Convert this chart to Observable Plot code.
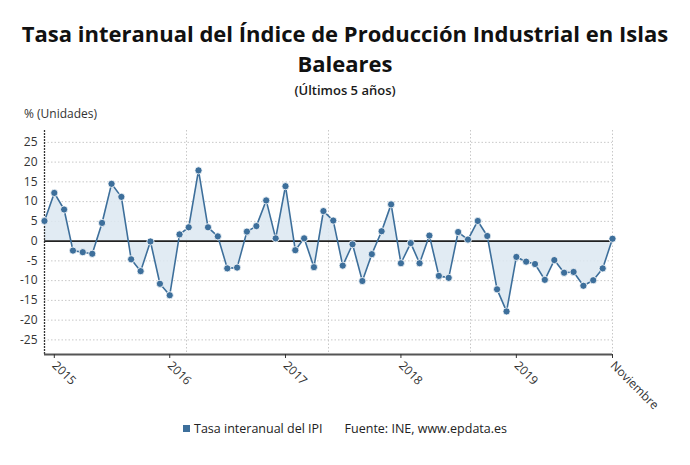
<!DOCTYPE html>
<html>
<head>
<meta charset="utf-8">
<script src="https://cdn.jsdelivr.net/npm/d3@7"></script>
<script src="https://cdn.jsdelivr.net/npm/@observablehq/plot@0.6"></script>
<style>
  html, body { margin: 0; padding: 0; background: #fff; }
  #wrap { position: relative; width: 690px; height: 465px; overflow: hidden; font-family: "Open Sans", sans-serif; color: #111; }
  #title { position: absolute; left: 0; top: 18px; width: 690px; text-align: center; font-weight: 700; font-size: 22px; line-height: 30px; color: #111; }
  #subtitle { position: absolute; left: 0; top: 81px; width: 690px; text-align: center; font-weight: 600; font-size: 13px; color: #1a1a1a; }
  #unit { position: absolute; left: 24px; top: 105px; font-size: 12px; color: #333; }
  #chart { position: absolute; left: 0; top: 120px; }
  #legend { position: absolute; left: 0; top: 420px; width: 690px; text-align: center; font-size: 12.5px; color: #222; }
  #legend .sw { display: inline-block; width: 7px; height: 7px; background: #3d6f9b; margin-right: 4px; vertical-align: 1px; }
  #legend .src { margin-left: 22px; }
</style>
</head>
<body>
<div id="wrap">
  <div id="title">Tasa interanual del Índice de Producción Industrial en Islas<br>Baleares</div>
  <div id="subtitle">(Últimos 5 años)</div>
  <div id="unit">% (Unidades)</div>
  <div id="chart"></div>
  <div id="legend"><span class="sw"></span>Tasa interanual del IPI<span class="src">Fuente: INE, www.epdata.es</span></div>
</div>
<script>
// Monthly series: December 2014 to November 2019
const startYear = 2014, startMonth = 11; // December 2014 (0-based month)
const values = [
  5.1, 12.2, 8.0, -2.4, -2.8, -3.2, 4.6, 14.5, 11.2, -4.6, -7.6, -0.1,
  -10.8, -13.7, 1.7, 3.5, 17.9, 3.5, 1.2, -6.9, -6.7, 2.4, 3.8, 10.3,
  0.7, 13.9, -2.3, 0.7, -6.6, 7.6, 5.2, -6.2, -0.8, -10.1, -3.3, 2.5,
  9.3, -5.6, -0.5, -5.6, 1.4, -8.8, -9.3, 2.3, 0.4, 5.1, 1.3, -12.2,
  -17.8, -4.0, -5.2, -5.8, -9.8, -4.8, -8.0, -7.8, -11.3, -9.9, -6.9, 0.6
];
const yTicks = [-25, -20, -15, -10, -5, 0, 5, 10, 15, 20, 25];
const xTickDates = [new Date(Date.UTC(2015,0,1)), new Date(Date.UTC(2016,0,1)), new Date(Date.UTC(2017,0,1)), new Date(Date.UTC(2018,0,1)), new Date(Date.UTC(2019,0,1)), new Date(Date.UTC(2019,10,1))];
const xTickLabels = ["2015", "2016", "2017", "2018", "2019", "Noviembre"];

const data = values.map((v, i) => ({date: new Date(Date.UTC(startYear, startMonth + i, 1)), value: v}));
const x0 = data[0].date, x1 = data[data.length - 1].date;
const vGrid = [1, 2, 3, 4].map(k => new Date(+x0 + (x1 - x0) * k / 4));
const yDomain = [-28.7, 28];
const labelOf = new Map(xTickDates.map((d, i) => [+d, xTickLabels[i]]));

const plot = Plot.plot({
  width: 690,
  height: 294,
  marginLeft: 44,
  marginRight: 78,
  marginTop: 10,
  marginBottom: 60,
  style: {fontFamily: "Open Sans, sans-serif", overflow: "visible"},
  x: {type: "utc", domain: [x0, x1]},
  y: {domain: yDomain},
  marks: [
    Plot.ruleY(yTicks.filter(d => d !== 0), {stroke: "#c8c8c8", strokeDasharray: "1.5,2", strokeWidth: 1}),
    Plot.ruleX(vGrid, {stroke: "#c8c8c8", strokeDasharray: "1.5,2", strokeWidth: 1}),
    Plot.areaY(data, {x: "date", y1: 0, y2: "value", fill: "#dce7f1", fillOpacity: 0.85}),
    Plot.ruleY([0], {stroke: "#222", strokeWidth: 1.6}),
    Plot.ruleX([x0], {stroke: "#333", strokeDasharray: "2,1", strokeWidth: 1.3}),
    Plot.ruleY([yDomain[0]], {stroke: "#555", strokeWidth: 2}),
    Plot.lineY(data, {x: "date", y: "value", stroke: "#3d6f9b", strokeWidth: 1.6}),
    Plot.dot(data, {x: "date", y: "value", r: 3.6, fill: "#3d6f9b", stroke: "#fff", strokeWidth: 0.8}),
    Plot.axisY({ticks: yTicks, tickSize: 0, tickPadding: 7, fontSize: 12, tickFormat: d => String(d), label: null, color: "#333"}),
    Plot.axisX({ticks: xTickDates, tickSize: 4, tickPadding: 5, tickRotate: 45, fontSize: 12, tickFormat: d => labelOf.get(+d), label: null, color: "#333"})
  ]
});
document.getElementById("chart").appendChild(plot);
</script>
</body>
</html>
